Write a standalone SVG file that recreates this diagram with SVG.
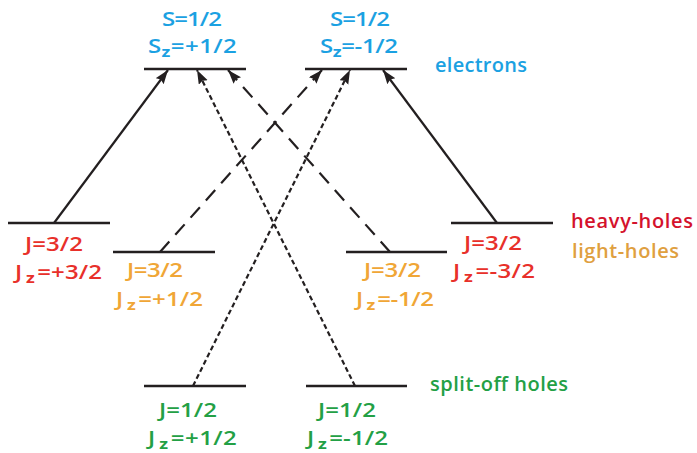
<svg xmlns="http://www.w3.org/2000/svg" width="697" height="453" viewBox="0 0 697 453">
<style>
.lvl{stroke:#231f20;stroke-width:2.6;fill:none}
.arr{stroke:#231f20;stroke-width:2.2;fill:none;marker-end:url(#ah)}
.dash{stroke-dasharray:14 9}
.dot{stroke-dasharray:5 3}
text{font-family:"Open Sans","Liberation Sans",sans-serif;font-size:20px;font-weight:600}
.sub{font-size:15px;font-weight:700}
.e{fill:#1ba1e2}
.hh{fill:#e8302a}
.hhl{fill:#d4122c}
.lh{fill:#f0a636}
.lhl{fill:#dfa040}
.so{fill:#23a045}
</style>
<defs>
<marker id="ah" markerUnits="userSpaceOnUse" markerWidth="16" markerHeight="12" refX="14" refY="5" orient="auto">
<path d="M0,0 L14,5 L0,10 L2,5 z" fill="#231f20"/>
</marker>
</defs>
<g id="connectors">
<line class="arr" x1="54" y1="223" x2="168" y2="70"/>
<line class="arr" x1="497" y1="223" x2="383" y2="70"/>
<line class="arr dash" x1="160" y1="252" x2="322" y2="70"/>
<line class="arr dash" x1="390" y1="252" x2="228" y2="70"/>
<line class="arr dot" x1="193" y1="386" x2="350" y2="70"/>
<line class="arr dot" x1="355" y1="386" x2="197" y2="70"/>
</g>
<g id="electron-up">
<line class="lvl" x1="144" y1="69" x2="246" y2="69"/>
<text class="e" transform="translate(162,26) scale(1.2,1)" textLength="50">S=1/2</text>
<text class="e" transform="translate(148,53) scale(1.2,1)" textLength="74">S<tspan class="sub" dy="4">z</tspan><tspan dy="-4">=+1/2</tspan></text>
</g>
<g id="electron-down">
<line class="lvl" x1="305" y1="69" x2="407" y2="69"/>
<text class="e" transform="translate(330,26) scale(1.2,1)" textLength="50">S=1/2</text>
<text class="e" transform="translate(320,53) scale(1.2,1)" textLength="65">S<tspan class="sub" dy="4">z</tspan><tspan dy="-4">=-1/2</tspan></text>
</g>
<g id="hh-left">
<line class="lvl" x1="8" y1="223" x2="110" y2="223"/>
<text class="hh" transform="translate(25,251) scale(1.2,1)" textLength="48.3">J=3/2</text>
<text class="hh" transform="translate(15,279) scale(1.2,1)" textLength="72.5">J<tspan class="sub" dx="3" dy="4">z</tspan><tspan dx="2" dy="-4">=+3/2</tspan></text>
</g>
<g id="lh-left">
<line class="lvl" x1="113" y1="252" x2="215" y2="252"/>
<text class="lh" transform="translate(127,277) scale(1.2,1)" textLength="46.7">J=3/2</text>
<text class="lh" transform="translate(116,306) scale(1.2,1)" textLength="72.5">J<tspan class="sub" dx="3" dy="4">z</tspan><tspan dx="2" dy="-4">=+1/2</tspan></text>
</g>
<g id="lh-right">
<line class="lvl" x1="346" y1="252" x2="447" y2="252"/>
<text class="lh" transform="translate(364,277) scale(1.2,1)" textLength="47.5">J=3/2</text>
<text class="lh" transform="translate(356,306) scale(1.2,1)" textLength="65">J<tspan class="sub" dx="3" dy="4">z</tspan><tspan dx="2" dy="-4">=-1/2</tspan></text>
</g>
<g id="hh-right">
<line class="lvl" x1="451" y1="223" x2="553" y2="223"/>
<text class="hh" transform="translate(464,250) scale(1.2,1)" textLength="48.3">J=3/2</text>
<text class="hh" transform="translate(453,278) scale(1.2,1)" textLength="68.3">J<tspan class="sub" dx="3" dy="4">z</tspan><tspan dx="2" dy="-4">=-3/2</tspan></text>
</g>
<g id="so-left">
<line class="lvl" x1="144" y1="386" x2="246" y2="386"/>
<text class="so" transform="translate(159,417) scale(1.2,1)" textLength="48.3">J=1/2</text>
<text class="so" transform="translate(148,445) scale(1.2,1)" textLength="74">J<tspan class="sub" dx="3" dy="4">z</tspan><tspan dx="2" dy="-4">=+1/2</tspan></text>
</g>
<g id="so-right">
<line class="lvl" x1="306" y1="386" x2="407" y2="386"/>
<text class="so" transform="translate(318,417) scale(1.2,1)" textLength="48.3">J=1/2</text>
<text class="so" transform="translate(307,445) scale(1.2,1)" textLength="67.5">J<tspan class="sub" dx="3" dy="4">z</tspan><tspan dx="2" dy="-4">=-1/2</tspan></text>
</g>
<g id="labels">
<text class="e" x="435" y="72" textLength="92">electrons</text>
<text class="hhl" x="571" y="228" textLength="122">heavy-holes</text>
<text class="lhl" x="572" y="258" textLength="107">light-holes</text>
<text class="so" x="430" y="391" textLength="138">split-off holes</text>
</g>
</svg>
